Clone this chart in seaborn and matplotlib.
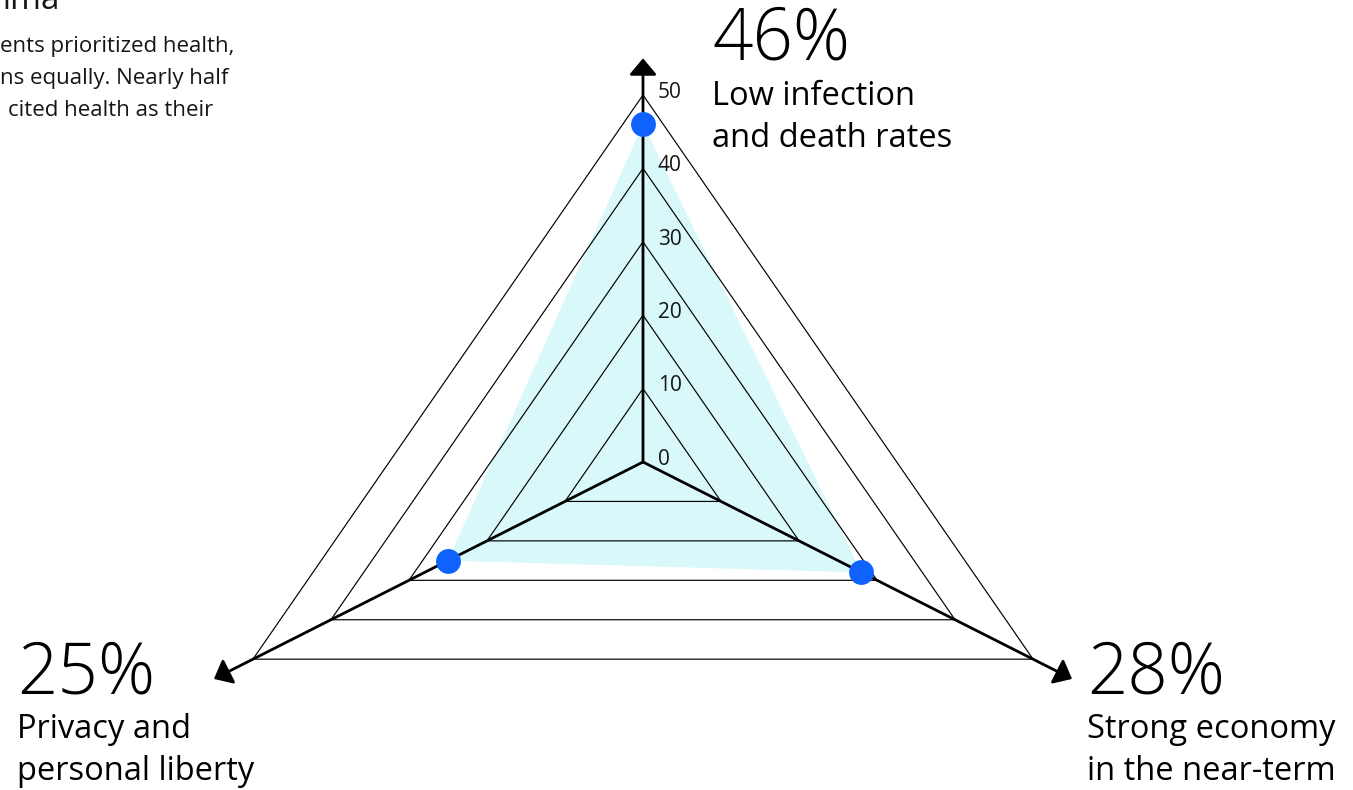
import matplotlib.pyplot as plt
import seaborn as sns
import numpy as np

sns.set_theme(style="white")
plt.rcParams["font.family"] = ["Open Sans", "DejaVu Sans"]

# ---- data ----
categories = [
    "Low infection\nand death rates",
    "Strong economy\nin the near-term",
    "Privacy and\npersonal liberty",
]
shares = [46, 28, 25]
tick_values = [0, 10, 20, 30, 40, 50]
grid_levels = [10, 20, 30, 40, 50]
intro_lines = ["ents prioritized health,", "ns equally. Nearly half", "cited health as their"]

# ---- layout (pixels) ----
W, H = 1353, 790
CX, CY = 643, 462          # centre of the radar
PX_X, PX_Y = 9.25, 7.34    # pixels per unit along x / y
AXIS_END = 55
angles = np.deg2rad([90, -32.5, 212.5])
dirs = np.column_stack([np.cos(angles), np.sin(angles)])


def px(x, y):
    return x / W, 1 - y / H


fig = plt.figure(figsize=(W / 100, H / 100), dpi=100)
ax = fig.add_axes([0, 0, 1, 1])
ax.set_xlim(-CX / PX_X, (W - CX) / PX_X)
ax.set_ylim(-(H - CY) / PX_Y, CY / PX_Y)
ax.axis("off")

# shaded data area
pts = dirs * np.array(shares)[:, None]
ax.fill(pts[:, 0], pts[:, 1], color="#d9f8f9", lw=0, zorder=1)

# triangular grid
for lv in grid_levels:
    tri = np.vstack([dirs * lv, dirs[:1] * lv])
    ax.plot(tri[:, 0], tri[:, 1], color="black", lw=0.85, zorder=2)

# axes with arrow heads
for d in dirs:
    ax.annotate(
        "",
        xy=d * AXIS_END,
        xytext=(0, 0),
        arrowprops=dict(
            arrowstyle="-|>,head_length=0.5,head_width=0.42",
            mutation_scale=20,
            lw=2,
            color="black",
            shrinkA=0,
            shrinkB=0,
        ),
        zorder=3,
    )

# data points
sns.scatterplot(x=pts[:, 0], y=pts[:, 1], s=320, color="#0f62fe", linewidth=0,
                ax=ax, zorder=4, legend=False)

# tick labels on the top axis
for v in tick_values:
    ax.annotate(str(v), xy=(0, v), xytext=(10.5, 2), textcoords="offset points",
                ha="left", va="center", fontsize=15, color="#161616")

# big value labels
label_pos = [(712, 60), (1087, 693), (17, 693)]
for (lx, ly), v, cat in zip(label_pos, shares, categories):
    fig.text(*px(lx, ly), f"{v}%", fontsize=51, fontweight="light",
             ha="left", va="baseline", color="black")
    for i, line in enumerate(cat.split("\n")):
        fig.text(*px(lx, ly + 45 + 42 * i), line, fontsize=23.5,
                 ha="left", va="baseline", color="black")

# cropped title and intro text in the upper left
fig.text(*px(60, 9), "mma", fontsize=24, ha="right", va="baseline", color="#161616")
for i, line in enumerate(intro_lines):
    fig.text(*px(0 if i < 2 else 8, 52 + 32 * i), line, fontsize=16,
             ha="left", va="baseline", color="#161616")

fig.savefig("out.png", dpi=100)
